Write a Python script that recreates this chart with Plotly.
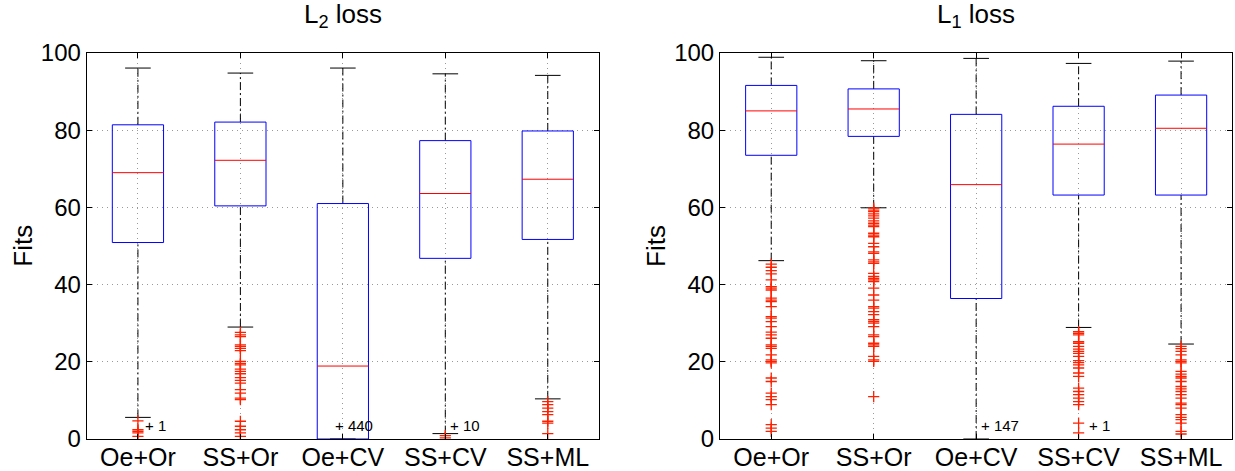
import plotly.graph_objects as go

categories = ["Oe+Or", "SS+Or", "Oe+CV", "SS+CV", "SS+ML"]

# L2 loss panel
l2_q1 = [50.9, 60.4, 0.0, 46.8, 51.7]
l2_med = [69.0, 72.2, 18.9, 63.6, 67.3]
l2_q3 = [81.4, 82.1, 61.0, 77.3, 79.8]
l2_lo = [5.6, 29.0, 0.0, 1.4, 10.4]
l2_hi = [96.1, 94.8, 96.1, 94.6, 94.2]
l2_out_oe_or = [4.7, 2.4, 2.0, 1.6, 0.7]
l2_out_ss_or = [27.6, 27.0, 26.5, 24.4, 24.0, 23.5, 22.9, 20.1, 19.6, 19.2, 18.1, 17.5,
                16.9, 15.9, 15.2, 14.5, 12.8, 11.9, 10.6, 10.2, 4.6, 3.3, 2.4, 1.6, 0.7]
l2_out_oe_cv = []
l2_out_ss_cv = [0.9, 0.3]
l2_out_ss_ml = [9.7, 8.9, 8.0, 7.1, 6.3, 4.6, 4.1, 1.4]
l2_hidden = {"Oe+Or": 1, "Oe+CV": 440, "SS+CV": 10}

# L1 loss panel
l1_q1 = [73.5, 78.4, 36.4, 63.2, 63.2]
l1_med = [85.0, 85.5, 65.9, 76.4, 80.5]
l1_q3 = [91.6, 90.7, 84.1, 86.2, 89.1]
l1_lo = [46.2, 59.9, 0.0, 28.9, 24.6]
l1_hi = [98.9, 98.0, 98.6, 97.3, 97.9]
l1_out_oe_or = [45.3, 44.5, 43.6, 42.8, 41.2, 39.5, 39.1, 38.6, 36.5, 36.0, 35.6, 34.3,
                31.7, 31.3, 30.4, 29.1, 27.7, 27.0, 26.1, 24.4, 24.0, 23.5, 21.8, 20.5,
                20.1, 19.7, 15.8, 14.9, 11.9, 11.0, 10.2, 8.9, 3.7, 2.8, 2.0]
l1_out_ss_or = [59.8, 59.3, 58.9, 58.3, 57.8, 57.2, 56.5, 55.9, 55.4, 55.0, 53.3, 52.8,
                52.4, 50.7, 49.8, 48.5, 48.1, 46.4, 45.9, 45.5, 42.9, 42.1, 41.6, 41.2,
                40.8, 39.1, 37.3, 36.0, 34.3, 33.9, 33.0, 32.2, 30.9, 30.4, 30.0, 29.1,
                27.0, 26.5, 24.8, 24.4, 24.0, 21.4, 20.5, 20.1, 11.0]
l1_out_oe_cv = []
l1_out_ss_cv = [27.8, 27.4, 27.0, 25.2, 24.8, 24.0, 23.3, 22.7, 22.2, 21.4, 20.3, 19.8,
                19.2, 18.4, 17.1, 16.2, 13.2, 12.3, 11.5, 10.6, 9.7, 8.9, 4.1, 1.6]
l1_out_ss_ml = [24.0, 23.4, 22.7, 21.8, 20.5, 20.1, 19.7, 17.5, 16.8, 16.2, 15.8, 14.9,
                13.6, 13.0, 12.3, 11.5, 10.6, 9.3, 8.9, 8.0, 6.3, 5.6, 5.0, 4.1, 2.0, 1.3]
l1_hidden = {"Oe+CV": 147, "SS+CV": 1}

titles = ["L<sub>2</sub> loss", "L<sub>1</sub> loss"]
y_title = "Fits"

panels = [
    dict(q1=l2_q1, med=l2_med, q3=l2_q3, lo=l2_lo, hi=l2_hi,
         out=[l2_out_oe_or, l2_out_ss_or, l2_out_oe_cv, l2_out_ss_cv, l2_out_ss_ml],
         hidden=l2_hidden),
    dict(q1=l1_q1, med=l1_med, q3=l1_q3, lo=l1_lo, hi=l1_hi,
         out=[l1_out_oe_or, l1_out_ss_or, l1_out_oe_cv, l1_out_ss_cv, l1_out_ss_ml],
         hidden=l1_hidden),
]

# style constants
BOX_HALF = 0.25
CAP_HALF = 0.125
FONT = "Liberation Sans, Arial, Helvetica, sans-serif"
W, H = 1235, 471
domains = [[86.7 / W, 599.0 / W], [720.0 / W, 1232.3 / W]]
label_dx = {0: {"Oe+Or": 0.05, "Oe+CV": -0.10, "SS+CV": 0.03},
            1: {"Oe+CV": 0.03, "SS+CV": 0.08}}

fig = go.Figure()

for p, d in enumerate(panels):
    xa = "x" if p == 0 else "x2"
    ya = "y" if p == 0 else "y2"
    pos = list(range(1, len(categories) + 1))
    bx, by, mx, my, wx, wy, cx, cy, ox, oy = [], [], [], [], [], [], [], [], [], []
    for i, c in enumerate(categories):
        xc = pos[i]
        bx += [xc - BOX_HALF, xc + BOX_HALF, xc + BOX_HALF, xc - BOX_HALF, xc - BOX_HALF, None]
        by += [d["q1"][i], d["q1"][i], d["q3"][i], d["q3"][i], d["q1"][i], None]
        mx += [xc - BOX_HALF, xc + BOX_HALF, None]
        my += [d["med"][i], d["med"][i], None]
        wx += [xc, xc, None, xc, xc, None]
        wy += [d["q3"][i], d["hi"][i], None, d["lo"][i], d["q1"][i], None]
        cx += [xc - CAP_HALF, xc + CAP_HALF, None, xc - CAP_HALF, xc + CAP_HALF, None]
        cy += [d["hi"][i], d["hi"][i], None, d["lo"][i], d["lo"][i], None]
        for v in d["out"][i]:
            ox.append(xc)
            oy.append(v)
    fig.add_trace(go.Scatter(x=wx, y=wy, mode="lines", xaxis=xa, yaxis=ya,
                             line=dict(color="black", width=1, dash="8px,3px,2px,3px"),
                             hoverinfo="skip", showlegend=False))
    fig.add_trace(go.Scatter(x=cx, y=cy, mode="lines", xaxis=xa, yaxis=ya,
                             line=dict(color="black", width=1),
                             hoverinfo="skip", showlegend=False))
    fig.add_trace(go.Scatter(x=bx, y=by, mode="lines", xaxis=xa, yaxis=ya,
                             line=dict(color="#0000ff", width=1),
                             hoverinfo="skip", showlegend=False))
    fig.add_trace(go.Scatter(x=mx, y=my, mode="lines", xaxis=xa, yaxis=ya,
                             line=dict(color="#ff0000", width=1),
                             hoverinfo="skip", showlegend=False))
    fig.add_trace(go.Scatter(x=ox, y=oy, mode="markers", xaxis=xa, yaxis=ya,
                             marker=dict(symbol="cross-thin", size=8,
                                         line=dict(color="#ff2000", width=1.3)),
                             showlegend=False))
    for c, n in d["hidden"].items():
        xi = categories.index(c) + 1
        fig.add_annotation(x=xi + label_dx[p][c], y=3.6, xref=xa, yref=ya,
                           text="+ %d" % n, showarrow=False, xanchor="left",
                           yanchor="middle", font=dict(family=FONT, size=15, color="black"))
    dom = domains[p]
    fig.add_annotation(x=(dom[0] + dom[1]) / 2, y=1, xref="paper", yref="paper",
                       xanchor="center", yanchor="bottom", yshift=19,
                       text=titles[p], showarrow=False,
                       font=dict(family=FONT, size=26, color="black"))
    fig.add_annotation(x=(dom[0] * W - 64) / W, y=0.5, xref="paper", yref="paper",
                       text=y_title, textangle=-90, showarrow=False,
                       xanchor="center", yanchor="middle",
                       font=dict(family=FONT, size=26, color="black"))

axis_common = dict(showline=True, linecolor="black", linewidth=1, mirror="ticks",
                   ticks="inside", ticklen=5, tickcolor="black", automargin=False,
                   showgrid=True, gridcolor="#9a9a9a", griddash="1px,4px", gridwidth=1,
                   zeroline=False)

for p in range(2):
    xkey = "xaxis" if p == 0 else "xaxis2"
    ykey = "yaxis" if p == 0 else "yaxis2"
    fig.update_layout(**{
        xkey: dict(axis_common, domain=domains[p], range=[0.5, 5.5],
                   tickvals=list(range(1, 6)), ticktext=categories,
                   tickfont=dict(family=FONT, size=25, color="black"),
                   anchor="y" if p == 0 else "y2", ticklabelstandoff=-4),
        ykey: dict(axis_common, domain=[0, 1], range=[0, 100],
                   tickvals=[0, 20, 40, 60, 80, 100],
                   tickfont=dict(family=FONT, size=24, color="black"),
                   anchor="x" if p == 0 else "x2", ticklabelstandoff=0),
    })

fig.update_layout(width=W, height=H, margin=dict(l=0, r=0, t=53, b=32, autoexpand=False),
                  paper_bgcolor="white", plot_bgcolor="white", showlegend=False)

fig.write_html("out.html")
